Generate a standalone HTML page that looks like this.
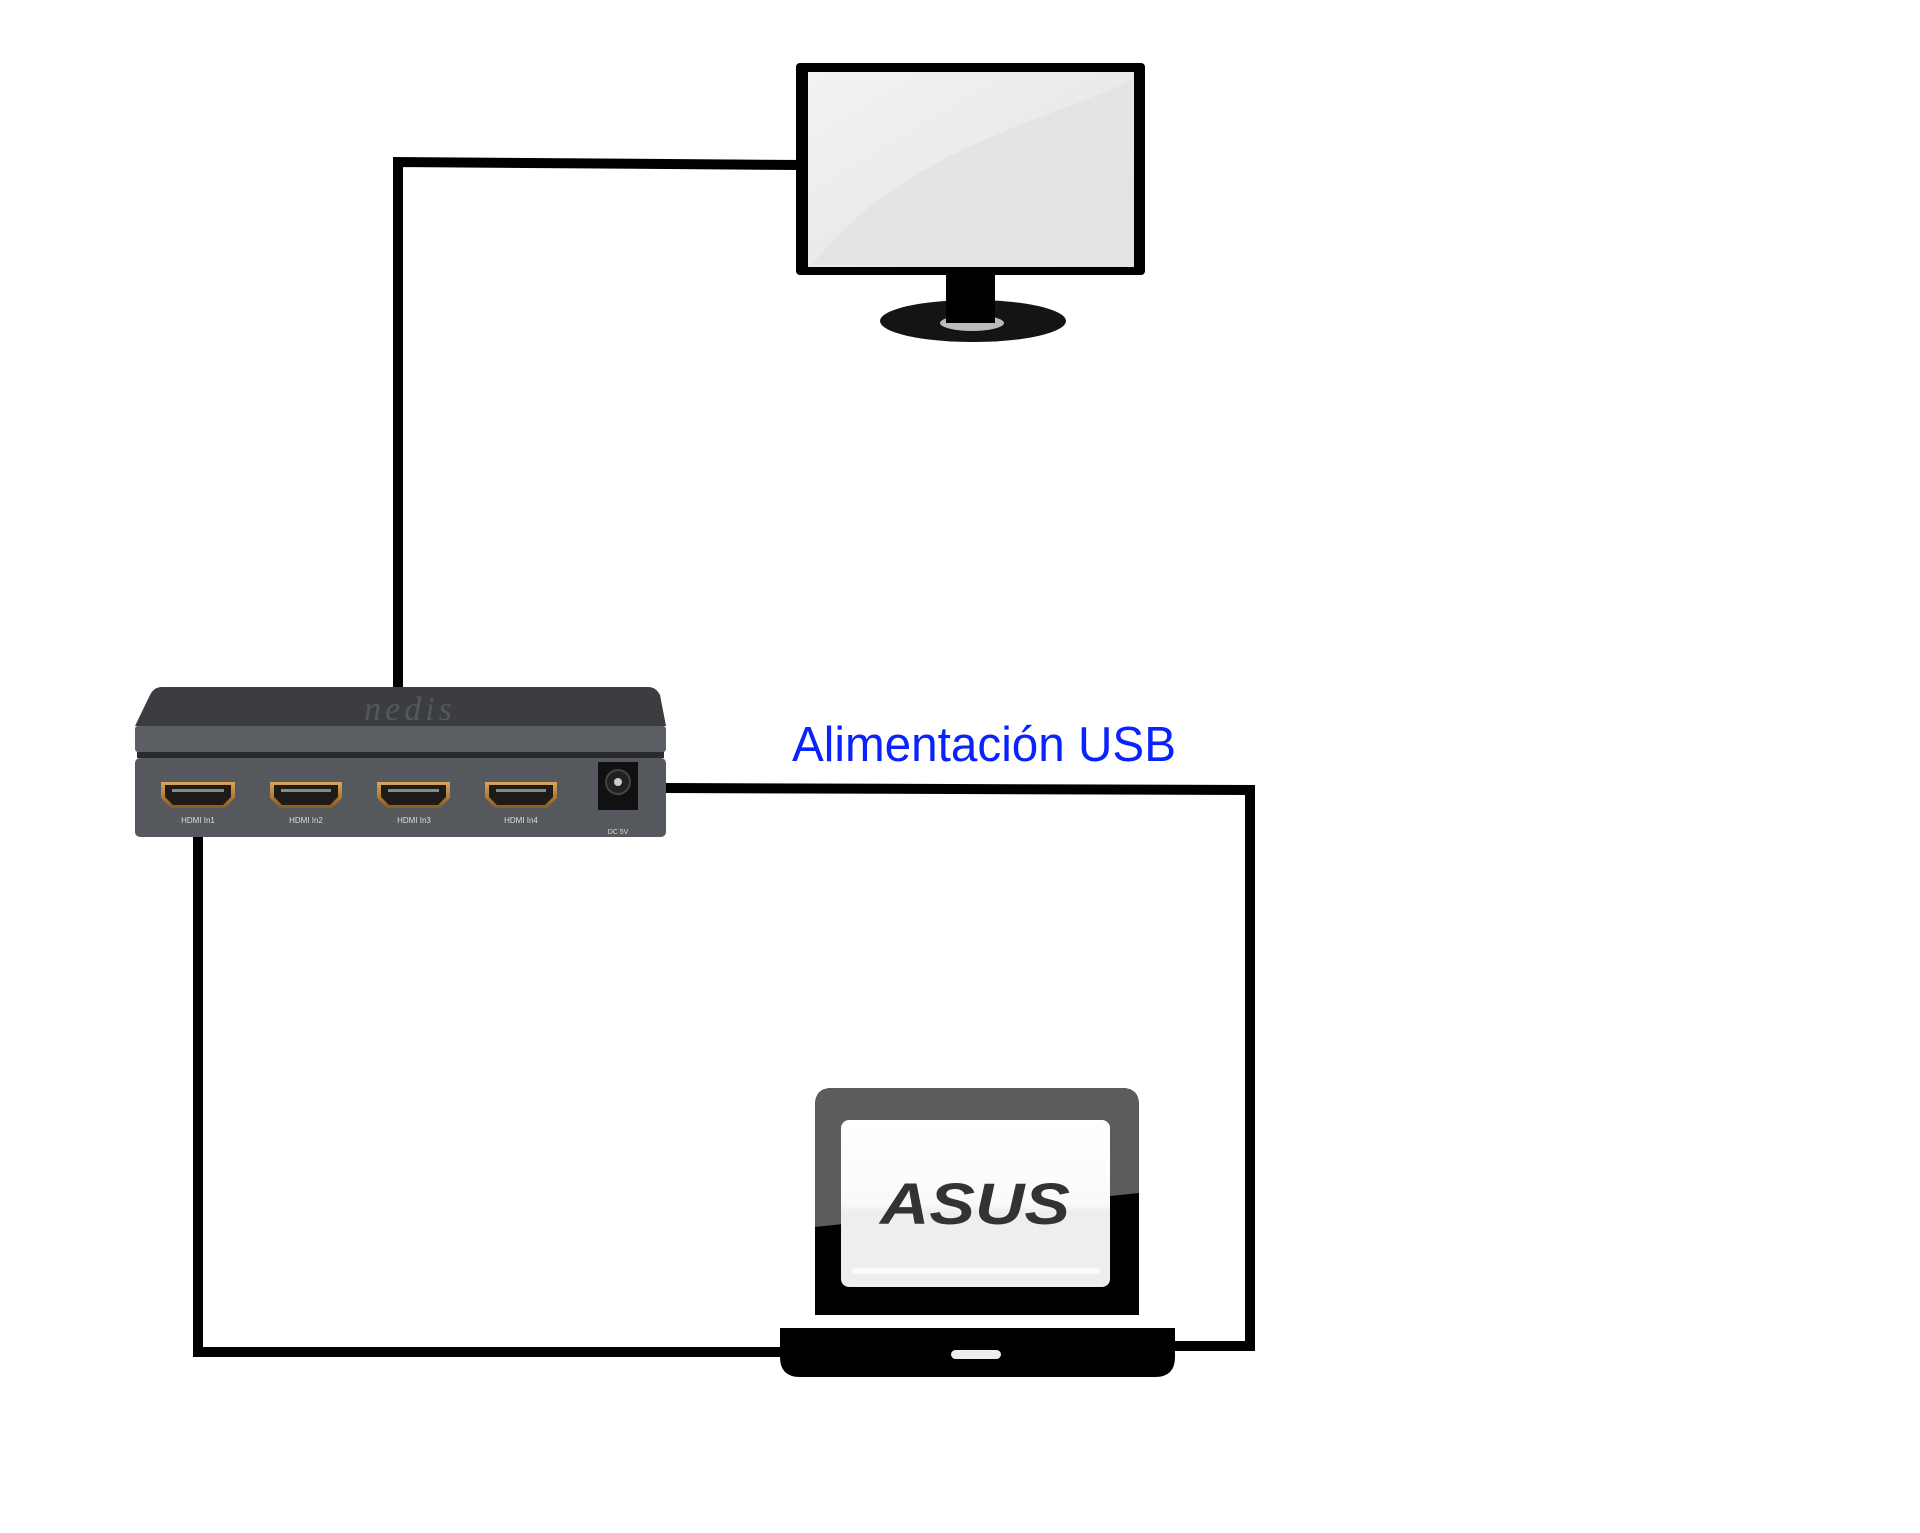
<!DOCTYPE html>
<html><head><meta charset="utf-8"><style>html,body{margin:0;padding:0;background:#fff;}svg{display:block}</style></head>
<body>
<svg width="1920" height="1533" viewBox="0 0 1920 1533" xmlns="http://www.w3.org/2000/svg">
<defs>
<linearGradient id="scr" x1="0" y1="0" x2="1" y2="1"><stop offset="0" stop-color="#f2f2f2"/><stop offset="1" stop-color="#e3e3e3"/></linearGradient>
<linearGradient id="lap" x1="0" y1="0" x2="0" y2="1"><stop offset="0" stop-color="#fff"/><stop offset="0.5" stop-color="#fafafa"/><stop offset="0.55" stop-color="#eee"/><stop offset="1" stop-color="#eee"/></linearGradient>
<linearGradient id="gold" x1="0" y1="0" x2="0" y2="1"><stop offset="0" stop-color="#d9a55a"/><stop offset="1" stop-color="#8a5a20"/></linearGradient>
</defs>
<!-- connectors -->
<g fill="none" stroke="#000" stroke-width="10">
<polyline points="804,165 398,162 398,690"/>
<polyline points="666,788 1250,790 1250,1346 1175,1346"/>
<polyline points="198,837 198,1352 790,1352"/>
</g>
<!-- monitor -->
<rect x="796" y="63" width="349" height="212" rx="4" fill="#000"/>
<rect x="808" y="72" width="326" height="195" fill="url(#scr)"/>
<path d="M812,265 C900,150 1050,120 1132,80 L1132,265 Z" fill="#e4e4e4"/>
<ellipse cx="973" cy="321" rx="93" ry="21" fill="#141414"/>
<ellipse cx="972" cy="323" rx="32" ry="8" fill="#bbb"/>
<rect x="946" y="275" width="49" height="48" fill="#000"/>
<!-- device -->
<path d="M162,687 L648,687 Q656,687 660,695 L666,726 L135,726 L150,695 Q154,687 162,687 Z" fill="#3b3d41"/>
<text x="410" y="720" font-family="Liberation Serif, serif" font-style="italic" font-size="34" fill="#54575b" text-anchor="middle" letter-spacing="4">nedis</text>
<rect x="135" y="726" width="531" height="26" rx="3" fill="#5b5e63"/>
<rect x="137" y="752" width="527" height="6" fill="#2a2b2e"/>
<rect x="135" y="758" width="531" height="79" rx="5" fill="#55585d"/>
<g font-family="Liberation Sans, sans-serif" font-size="8" fill="#ddd" text-anchor="middle">
<g>
<path d="M161,782 H235 V798 L225,808 H171 L161,798 Z" fill="url(#gold)"/><path d="M165,785 H231 V797 L223,805 H173 L165,797 Z" fill="#1e1b18"/><rect x="172" y="789" width="52" height="3" fill="#888"/>
<text x="198" y="823">HDMI In1</text></g>
<g>
<path d="M270,782 H342 V798 L332,808 H280 L270,798 Z" fill="url(#gold)"/><path d="M274,785 H338 V797 L330,805 H282 L274,797 Z" fill="#1e1b18"/><rect x="281" y="789" width="50" height="3" fill="#888"/>
<text x="306" y="823">HDMI In2</text></g>
<g>
<path d="M377,782 H450 V798 L440,808 H387 L377,798 Z" fill="url(#gold)"/><path d="M381,785 H446 V797 L438,805 H389 L381,797 Z" fill="#1e1b18"/><rect x="388" y="789" width="51" height="3" fill="#888"/>
<text x="414" y="823">HDMI In3</text></g>
<g>
<path d="M485,782 H557 V798 L547,808 H495 L485,798 Z" fill="url(#gold)"/><path d="M489,785 H553 V797 L545,805 H497 L489,797 Z" fill="#1e1b18"/><rect x="496" y="789" width="50" height="3" fill="#888"/>
<text x="521" y="823">HDMI In4</text></g>
<rect x="598" y="762" width="40" height="48" fill="#111"/>
<circle cx="618" cy="782" r="12" fill="#222" stroke="#444" stroke-width="2"/><circle cx="618" cy="782" r="4" fill="#ccc"/>
<text x="618" y="834" font-size="7">DC 5V</text>
</g>
<!-- label -->
<text x="792" y="761" font-family="Liberation Sans, sans-serif" font-size="49" fill="#0a22ff" textLength="384" lengthAdjust="spacingAndGlyphs">Alimentación USB</text>
<!-- laptop -->
<path d="M832,1088 H1122 Q1139,1088 1139,1105 V1315 H815 V1105 Q815,1088 832,1088 Z" fill="#000"/>
<path d="M832,1088 H1122 Q1139,1088 1139,1105 V1193 L815,1227 V1105 Q815,1088 832,1088 Z" fill="#5c5c5c"/>
<rect x="841" y="1120" width="269" height="167" rx="8" fill="url(#lap)"/>
<rect x="851" y="1268" width="249" height="6" rx="3" fill="#fafafa"/>
<text x="880" y="1224" font-family="Liberation Sans, sans-serif" font-weight="bold" font-style="italic" font-size="58" fill="#333" textLength="190" lengthAdjust="spacingAndGlyphs">ASUS</text>
<path d="M780,1328 H1175 V1357 Q1175,1377 1155,1377 H800 Q780,1377 780,1357 Z" fill="#000"/>
<rect x="951" y="1350" width="50" height="9" rx="4.5" fill="#eee"/>
</svg>
</body></html>
